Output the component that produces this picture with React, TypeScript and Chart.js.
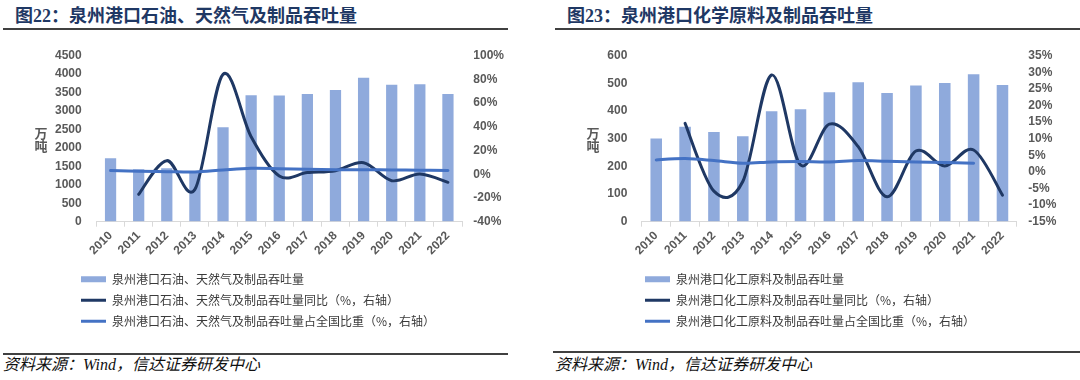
import React, { useEffect, useRef } from 'react';
import { Chart, registerables } from 'chart.js';
Chart.register(...registerables);

// ---------- data ----------
const years = ['2010', '2011', '2012', '2013', '2014', '2015', '2016', '2017', '2018', '2019', '2020', '2021', '2022'];

// 图22 石油、天然气及制品
const oilThroughput = [1720, 1420, 1450, 1330, 2560, 3430, 3420, 3460, 3570, 3900, 3710, 3725, 3460];
const oilYoY = [null, -16.9, 11.5, -12.7, 84.3, 31.7, -1.4, 1.4, 3.0, 9.8, -5.4, 0.2, -6.8];
const oilShare = [3.1, 2.5, 2.2, 1.9, 3.6, 5.0, 4.7, 4.2, 3.9, 3.9, 3.6, 3.4, 3.1];
const oilLeftTicks = [0, 500, 1000, 1500, 2000, 2500, 3000, 3500, 4000, 4500];
const oilRightTicks = [-40, -20, 0, 20, 40, 60, 80, 100];
const oilNames = [
  '泉州港口石油、天然气及制品吞吐量',
  '泉州港口石油、天然气及制品吞吐量同比（%，右轴）',
  '泉州港口石油、天然气及制品吞吐量占全国比重（%，右轴）',
];

// 图23 化工原料及制品
const chemThroughput = [301, 343, 324, 309, 399, 406, 468, 504, 465, 492, 501, 533, 494];
const chemYoY = [null, 14.6, -5.8, -2.9, 29.2, 2.1, 14.4, 7.6, -7.5, 6.3, 1.8, 6.6, -7.0];
const chemShare = [3.6, 4.0, 3.4, 2.6, 3.0, 3.1, 3.0, 3.4, 3.2, 3.0, 2.8, 2.6, null];
const chemLeftTicks = [0, 100, 200, 300, 400, 500, 600];
const chemRightTicks = [-15, -10, -5, 0, 5, 10, 15, 20, 25, 30, 35];
const chemNames = [
  '泉州港口化工原料及制品吞吐量',
  '泉州港口化工原料及制品吞吐量同比（%，右轴）',
  '泉州港口化工原料及制品吞吐量占全国比重（%，右轴）',
];

const unitLabel = '万吨';
const sourceText = '资料来源：Wind，信达证券研发中心';

// ---------- styles ----------
const BAR = '#8FAADC';
const NAVY = '#1F3864';
const BLUE = '#4472C4';
const TICK = '#595959';
const CLEAR = 'rgba(0,0,0,0)';

// Excel-like smoothing: Catmull-Rom control points from the scale-placed points
const excelSmooth = {
  id: 'excelSmooth',
  beforeDatasetDraw(chart: any, args: any) {
    const meta = args.meta;
    if (meta.type !== 'line') return;
    const pts = meta.data.filter((p: any) => !p.skip);
    for (let i = 0; i < pts.length; i++) {
      const p = pts[i];
      const prev = pts[i - 1] || p;
      const next = pts[i + 1] || p;
      const dx = (next.x - prev.x) / 6;
      const dy = (next.y - prev.y) / 6;
      p.cp1x = p.x - dx;
      p.cp1y = p.y - dy;
      p.cp2x = p.x + dx;
      p.cp2y = p.y + dy;
    }
    meta.dataset._pointsUpdated = true;
    meta.dataset._path = undefined;
  },
};

const legendShift = (x: number) => ({
  id: 'legendShift',
  afterLayout(chart: any) {
    const lg = chart.legend;
    if (!lg) return;
    const w = lg.width;
    lg.left = x;
    lg.right = x + w;
  },
});

type Props = {
  left: number;
  bars: number[];
  yoy: (number | null)[];
  share: (number | null)[];
  names: string[];
  leftTicks: number[];
  rightTicks: number[];
  padRight: number;
  leftAxisW: number;
  rightAxisW: number;
  leftTickPad: number;
  rightTickPad: number;
  legendLeft: number;
};

function ComboChart(p: Props) {
  const ref = useRef<HTMLCanvasElement>(null);
  useEffect(() => {
    const tickFont = { family: '"Liberation Sans", Arial, sans-serif', size: 12, weight: 'bold' as const };
    const lStep = p.leftTicks[1] - p.leftTicks[0];
    const rStep = p.rightTicks[1] - p.rightTicks[0];
    const chart = new Chart(ref.current as HTMLCanvasElement, {
      type: 'bar',
      data: {
        labels: years,
        datasets: [
          {
            type: 'bar',
            label: p.names[0],
            data: p.bars,
            backgroundColor: BAR,
            yAxisID: 'y',
            order: 3,
            barPercentage: 0.4,
            categoryPercentage: 1,
          },
          {
            type: 'line',
            label: p.names[1],
            data: p.yoy,
            borderColor: NAVY,
            backgroundColor: NAVY,
            borderWidth: 3,
            pointRadius: 0,
            tension: 0.4,
            borderCapStyle: 'round',
            borderJoinStyle: 'round',
            yAxisID: 'y1',
            order: 2,
            fill: false,
          },
          {
            type: 'line',
            label: p.names[2],
            data: p.share,
            borderColor: BLUE,
            backgroundColor: BLUE,
            borderWidth: 3,
            pointRadius: 0,
            tension: 0.4,
            borderCapStyle: 'round',
            borderJoinStyle: 'round',
            yAxisID: 'y1',
            order: 1,
            fill: false,
          },
        ] as any,
      },
      options: {
        responsive: false,
        animation: false,
        devicePixelRatio: 1,
        layout: { padding: { left: 0, right: p.padRight, top: 15.7, bottom: 2.7 } },
        plugins: {
          tooltip: { enabled: false },
          legend: {
            position: 'bottom',
            align: 'start',
            fullSize: false,
            labels: {
              usePointStyle: true,
              pointStyleWidth: 25,
              boxHeight: 6,
              padding: 9,
              color: '#3A3A3A',
              font: { family: '"Noto Sans CJK SC", sans-serif', size: 12 },
              generateLabels: (c: any) =>
                c.data.datasets.map((ds: any, i: number) => ({
                  text: ds.label,
                  fillStyle: i === 0 ? BAR : ds.borderColor,
                  strokeStyle: i === 0 ? BAR : ds.borderColor,
                  lineWidth: i === 0 ? 0 : 3,
                  pointStyle: i === 0 ? 'rect' : 'line',
                  hidden: false,
                  datasetIndex: i,
                  fontColor: '#3A3A3A',
                })),
            },
          },
        },
        scales: {
          x: {
            offset: true,
            grid: {
              display: true,
              offset: true,
              drawOnChartArea: false,
              drawTicks: true,
              tickLength: 5,
              color: '#D9D9D9',
            },
            border: { display: true, color: '#D9D9D9', width: 1 },
            ticks: { minRotation: 45, maxRotation: 45, padding: 2, color: TICK, font: tickFont, autoSkip: false },
            afterFit: (s: any) => {
              s.height = 42.6;
            },
          },
          y: {
            position: 'left',
            min: p.leftTicks[0],
            max: p.leftTicks[p.leftTicks.length - 1],
            grid: { display: true, drawOnChartArea: false, drawTicks: true, tickLength: p.leftTickPad, color: CLEAR },
            border: { display: false },
            ticks: {
              stepSize: lStep,
              autoSkip: false,
              padding: 0,
              color: TICK,
              font: tickFont,
              callback: (v: any) => String(v),
            },
            afterFit: (s: any) => {
              s.width = p.leftAxisW;
            },
          },
          y1: {
            position: 'right',
            min: p.rightTicks[0],
            max: p.rightTicks[p.rightTicks.length - 1],
            grid: { display: true, drawOnChartArea: false, drawTicks: true, tickLength: p.rightTickPad, color: CLEAR },
            border: { display: false },
            ticks: {
              stepSize: rStep,
              autoSkip: false,
              padding: 0,
              color: TICK,
              font: tickFont,
              callback: (v: any) => v + '%',
            },
            afterFit: (s: any) => {
              s.width = p.rightAxisW;
            },
          },
        },
      } as any,
      plugins: [excelSmooth, legendShift(p.legendLeft)],
    });
    return () => chart.destroy();
  }, []);
  return (
    <canvas
      ref={ref}
      width={540}
      height={300}
      style={{ position: 'absolute', left: p.left, top: 40, width: 540, height: 300 }}
    />
  );
}

const titleStyle: React.CSSProperties = {
  position: 'absolute',
  top: 3,
  font: 'bold 18px "Liberation Serif", "Noto Sans CJK SC", serif',
  color: '#1F3864',
  lineHeight: '26px',
  whiteSpace: 'nowrap',
};
const ruleStyle: React.CSSProperties = { position: 'absolute', height: 2, background: '#404040' };
const sourceStyle: React.CSSProperties = {
  position: 'absolute',
  top: 355,
  font: 'italic 16px "Liberation Serif", "Noto Sans CJK SC", serif',
  color: '#111',
  lineHeight: '20px',
  whiteSpace: 'nowrap',
};
const unitStyle: React.CSSProperties = {
  position: 'absolute',
  top: 126,
  width: 14,
  font: 'bold 13px "Noto Sans CJK SC", sans-serif',
  color: TICK,
  lineHeight: '13px',
  textAlign: 'center',
};

export default function App() {
  return (
    <div style={{ position: 'absolute', left: 0, top: 0, width: 1080, height: 380, background: '#fff', overflow: 'hidden' }}>
      <div style={{ ...titleStyle, left: 15 }}>图22：泉州港口石油、天然气及制品吞吐量</div>
      <div style={{ ...titleStyle, left: 567 }}>图23：泉州港口化学原料及制品吞吐量</div>
      <div style={{ ...ruleStyle, left: 3, width: 505, top: 27.5 }} />
      <div style={{ ...ruleStyle, left: 555, width: 525, top: 27.5 }} />

      <ComboChart
        left={0}
        bars={oilThroughput}
        yoy={oilYoY}
        share={oilShare}
        names={oilNames}
        leftTicks={oilLeftTicks}
        rightTicks={oilRightTicks}
        padRight={35}
        leftAxisW={96.5}
        rightAxisW={43}
        leftTickPad={14.8}
        rightTickPad={11.3}
        legendLeft={72}
      />
      <ComboChart
        left={540}
        bars={chemThroughput}
        yoy={chemYoY}
        share={chemShare}
        names={chemNames}
        leftTicks={chemLeftTicks}
        rightTicks={chemRightTicks}
        padRight={18.1}
        leftAxisW={101.8}
        rightAxisW={45}
        leftTickPad={14.5}
        rightTickPad={11.4}
        legendLeft={96}
      />

      <div style={{ ...unitStyle, left: 34 }}>
        {unitLabel[0]}
        <br />
        {unitLabel[1]}
      </div>
      <div style={{ ...unitStyle, left: 586 }}>
        {unitLabel[0]}
        <br />
        {unitLabel[1]}
      </div>

      <div style={{ ...ruleStyle, left: 3, width: 505, top: 352.5 }} />
      <div style={{ ...ruleStyle, left: 553, width: 527, top: 351 }} />
      <div style={{ ...sourceStyle, left: 3 }}>{sourceText}</div>
      <div style={{ ...sourceStyle, left: 555 }}>{sourceText}</div>
    </div>
  );
}
